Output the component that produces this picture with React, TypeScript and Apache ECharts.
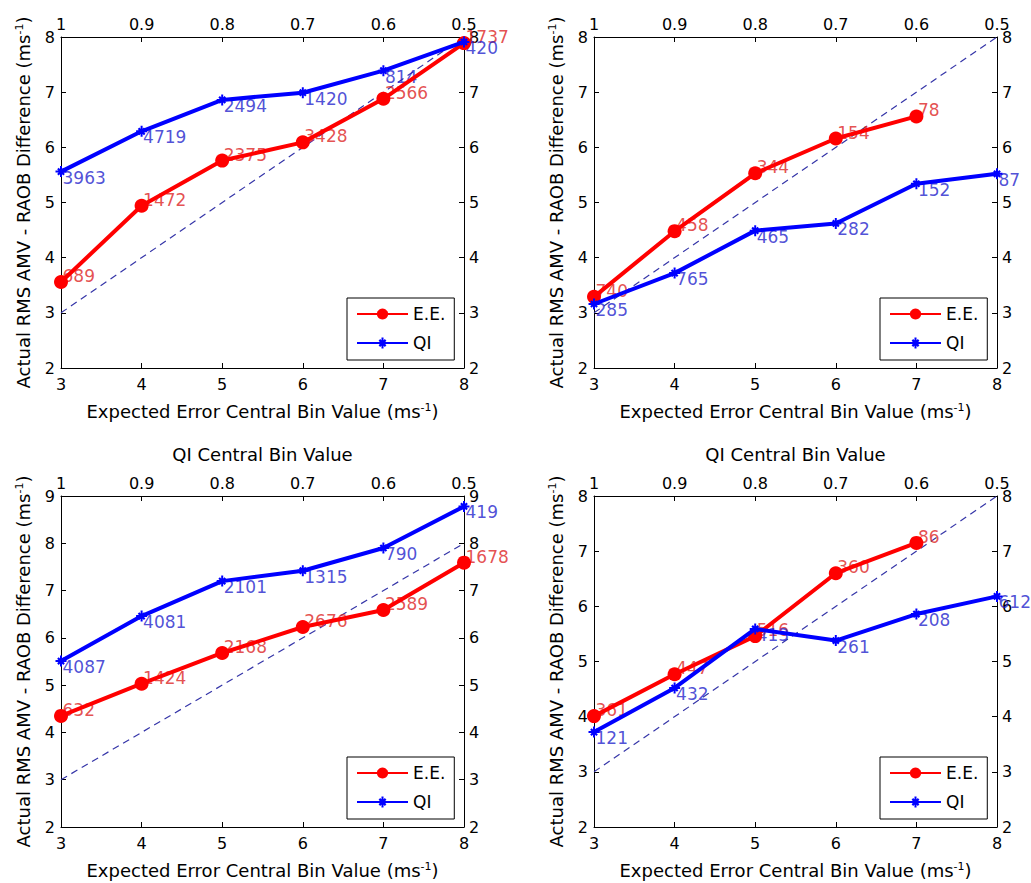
import React, { useEffect, useRef } from "react";
import * as echarts from "echarts";

const FONT = "DejaVu Sans";

const X = [3, 4, 5, 6, 7, 8];
const TOP_TICKS = [1, 0.9, 0.8, 0.7, 0.6, 0.5];

const p1EE = [3.56, 4.94, 5.76, 6.09, 6.88, 7.89];
const p1QI = [5.56, 6.29, 6.86, 6.99, 7.39, 7.91];
const p1EELabels = ["689", "1472", "2375", "3428", "2566", "1737"];
const p1QILabels = ["3963", "4719", "2494", "1420", "814", "420"];

const p2EE = [3.29, 4.48, 5.53, 6.16, 6.56];
const p2QI = [3.16, 3.72, 4.49, 4.62, 5.34, 5.52];
const p2EELabels = ["740", "458", "344", "154", "78"];
const p2QILabels = ["285", "765", "465", "282", "152", "87"];

const p3EE = [4.35, 5.03, 5.68, 6.23, 6.59, 7.59];
const p3QI = [5.51, 6.46, 7.2, 7.42, 7.9, 8.78];
const p3EELabels = ["632", "1424", "2168", "2676", "2589", "1678"];
const p3QILabels = ["4087", "4081", "2101", "1315", "790", "419"];

const p4EE = [4.01, 4.77, 5.46, 6.6, 7.15];
const p4QI = [3.72, 4.52, 5.59, 5.38, 5.86, 6.18];
const p4EELabels = ["361", "447", "516", "360", "86"];
const p4QILabels = ["121", "432", "413", "261", "208", "612"];

const DIAG = [3, 8];

const PANELS = [
  { left: 61, top: 37, yMax: 8, ee: p1EE, qi: p1QI, eeL: p1EELabels, qiL: p1QILabels, topName: false },
  { left: 594, top: 37, yMax: 8, ee: p2EE, qi: p2QI, eeL: p2EELabels, qiL: p2QILabels, topName: false },
  { left: 61, top: 496, yMax: 9, ee: p3EE, qi: p3QI, eeL: p3EELabels, qiL: p3QILabels, topName: true },
  { left: 594, top: 496, yMax: 8, ee: p4EE, qi: p4QI, eeL: p4EELabels, qiL: p4QILabels, topName: true },
];

const W = 403;
const H = 331;

const ASTERISK =
  "path://M-0.9,-5 L0.9,-5 L0.9,5 L-0.9,5 Z M-5,-0.9 L5,-0.9 L5,0.9 L-5,0.9 Z M-3.5,-2.1 L-2.1,-3.5 L3.5,2.1 L2.1,3.5 Z M2.1,-3.5 L3.5,-2.1 L-2.1,3.5 L-3.5,2.1 Z";

const axisCommon = {
  axisLine: { show: true, onZero: false, lineStyle: { color: "#000", width: 1 } },
  axisTick: { show: true, inside: true, length: 5, lineStyle: { color: "#000" } },
  splitLine: { show: false },
};

const nameStyle = {
  fontFamily: FONT,
  fontSize: 18,
  color: "#000",
  rich: { sup: { fontFamily: FONT, fontSize: 11, color: "#000", verticalAlign: "top" } },
};

const labelStyle = { fontFamily: FONT, fontSize: 16, color: "#000" };

function buildOption() {
  const grid: any[] = [];
  const xAxis: any[] = [];
  const yAxis: any[] = [];
  const series: any[] = [];
  const legend: any[] = [];

  PANELS.forEach((p, i) => {
    grid.push({ left: p.left, top: p.top, width: W, height: H, containLabel: false });
    xAxis.push({
      type: "value",
      gridIndex: i,
      position: "bottom",
      min: 3,
      max: 8,
      interval: 1,
      name: "Expected Error Central Bin Value (ms{sup|-1})",
      nameLocation: "middle",
      nameGap: 34,
      nameTextStyle: nameStyle,
      ...axisCommon,
      axisLabel: { ...labelStyle, margin: 8 },
    });
    xAxis.push({
      type: "value",
      gridIndex: i,
      position: "top",
      min: 0.5,
      max: 1,
      interval: 0.1,
      inverse: true,
      name: p.topName ? "QI Central Bin Value" : "",
      nameLocation: "middle",
      nameGap: 33,
      nameTextStyle: nameStyle,
      ...axisCommon,
      axisLabel: {
        ...labelStyle,
        margin: 5,
        formatter: (v: number) => String(+v.toFixed(1)),
      },
    });
    yAxis.push({
      type: "value",
      gridIndex: i,
      position: "left",
      min: 2,
      max: p.yMax,
      interval: 1,
      name: "Actual RMS AMV - RAOB Difference (ms{sup|-1})",
      nameLocation: "middle",
      nameGap: 29,
      nameTextStyle: nameStyle,
      ...axisCommon,
      axisLabel: { ...labelStyle, margin: 6 },
    });
    yAxis.push({
      type: "value",
      gridIndex: i,
      position: "right",
      min: 2,
      max: p.yMax,
      interval: 1,
      ...axisCommon,
      axisLabel: { ...labelStyle, margin: 5 },
    });

    const xi = i * 2;
    const yi = i * 2;

    series.push({
      type: "line",
      name: "diag",
      xAxisIndex: xi,
      yAxisIndex: yi,
      data: DIAG.map((d) => [d, d]),
      symbol: "none",
      lineStyle: { color: "#3535a8", width: 1.2, type: [7, 5] },
      z: 1,
      silent: true,
    });
    series.push({
      type: "scatter",
      name: "eeLabels" + i,
      xAxisIndex: xi,
      yAxisIndex: yi,
      symbolSize: 1,
      itemStyle: { color: "rgba(0,0,0,0)" },
      data: p.ee.map((v, k) => ({ name: p.eeL[k], value: [X[k], v] })),
      label: {
        show: true,
        position: "right",
        distance: 1,
        offset: [0, -6],
        formatter: "{b}",
        fontFamily: FONT,
        fontSize: 17,
        color: "#dd2424",
      },
      z: 2,
      silent: true,
    });
    series.push({
      type: "scatter",
      name: "qiLabels" + i,
      xAxisIndex: xi,
      yAxisIndex: yi,
      symbolSize: 1,
      itemStyle: { color: "rgba(0,0,0,0)" },
      data: p.qi.map((v, k) => ({ name: p.qiL[k], value: [X[k], v] })),
      label: {
        show: true,
        position: "right",
        distance: 1,
        offset: [0, 6],
        formatter: "{b}",
        fontFamily: FONT,
        fontSize: 17,
        color: "#2424cc",
      },
      z: 2,
      silent: true,
    });
    series.push({
      type: "line",
      name: "E.E.",
      xAxisIndex: xi,
      yAxisIndex: yi,
      data: p.ee.map((v, k) => [X[k], v]),
      symbol: "circle",
      symbolSize: 14,
      showAllSymbol: true,
      itemStyle: { color: "#ff0000" },
      lineStyle: { color: "#ff0000", width: 4 },
      z: 3,
    });
    series.push({
      type: "line",
      name: "QI",
      xAxisIndex: xi,
      yAxisIndex: yi,
      data: p.qi.map((v, k) => [X[k], v]),
      symbol: ASTERISK,
      symbolSize: 11,
      showAllSymbol: true,
      itemStyle: { color: "#0000ff" },
      lineStyle: { color: "#0000ff", width: 4 },
      z: 4,
    });

    legend.push({
      data: ["E.E.", "QI"],
      orient: "vertical",
      left: p.left + 286,
      top: p.top + 261,
      itemWidth: 51,
      itemHeight: 14,
      itemGap: 9,
      padding: [6, 9, 7, 9],
      borderColor: "#000",
      borderWidth: 1,
      backgroundColor: "#fff",
      selectedMode: false,
      textStyle: { fontFamily: FONT, fontSize: 17, color: "#000", lineHeight: 20 },
    });
  });

  return {
    animation: false,
    backgroundColor: "#fff",
    grid,
    xAxis,
    yAxis,
    series,
    legend,
  };
}

export default function App() {
  const ref = useRef<HTMLDivElement>(null);
  useEffect(() => {
    if (!ref.current) return;
    const chart = echarts.init(ref.current, undefined, { renderer: "svg" });
    chart.setOption(buildOption() as any);
    return () => chart.dispose();
  }, []);
  return (
    <div
      ref={ref}
      style={{ position: "fixed", left: 0, top: 0, width: 1031, height: 883, background: "#fff" }}
    />
  );
}
